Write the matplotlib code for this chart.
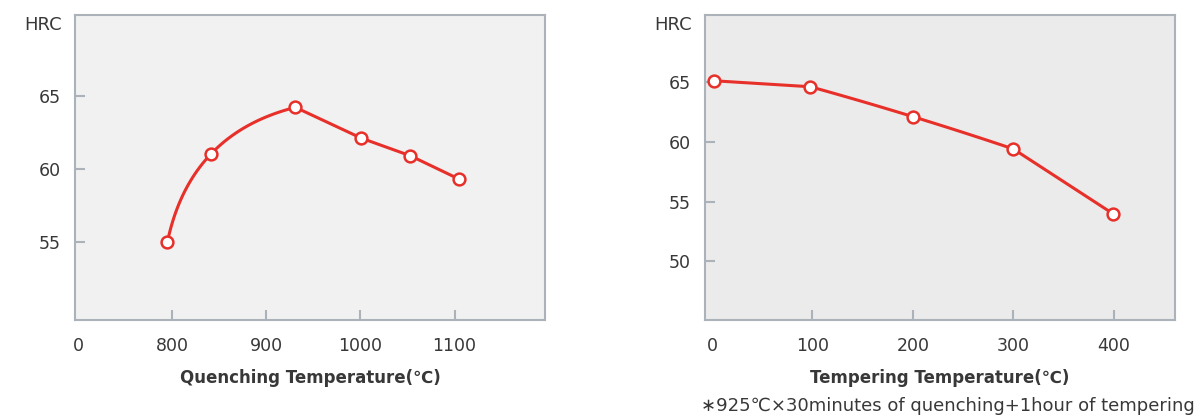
import matplotlib.pyplot as plt
import numpy as np

# quenching data
q_temp = [795, 841, 931, 1001, 1053, 1105]
q_hrc = [55.0, 61.0, 64.2, 62.1, 60.9, 59.3]
q_xticks = [700, 800, 900, 1000, 1100]
q_xlabels = ['0', '800', '900', '1000', '1100']
q_yticks = [55, 60, 65]

# tempering data
t_temp = [2, 98, 200, 300, 399]
t_hrc = [65.1, 64.6, 62.1, 59.4, 54.0]
t_xticks = [0, 100, 200, 300, 400]
t_yticks = [50, 55, 60, 65]

RED = '#e8302a'
SPINE = '#abb2b9'
TEXT = '#383838'

plt.rcParams['font.family'] = ['DejaVu Sans', 'Noto Sans CJK KR']


def curve(x, y, xlim, ylim, bend, n=50):
    # straight segments, except a smooth cubic run over the point indices in `bend`
    sx = 470 / (xlim[1] - xlim[0])
    sy = 305 / (ylim[1] - ylim[0])
    p = np.column_stack([np.asarray(x, float) * sx, np.asarray(y, float) * sy])
    a, b = bend
    m = {}
    for k in range(a + 1, b):
        m[k] = (p[k + 1] - p[k - 1]) / 2
    m[a] = 2 * (p[a + 1] - p[a]) - m[a + 1]
    m[b] = 2 * (p[b] - p[b - 1]) - m[b - 1]
    t = np.linspace(0, 1, n)[:, None]
    pts = []
    for k in range(len(p) - 1):
        if a <= k < b:
            h00 = 2 * t ** 3 - 3 * t ** 2 + 1
            h10 = t ** 3 - 2 * t ** 2 + t
            h01 = -2 * t ** 3 + 3 * t ** 2
            h11 = t ** 3 - t ** 2
            pts.append(h00 * p[k] + h10 * m[k] + h01 * p[k + 1] + h11 * m[k + 1])
        else:
            pts.append(np.vstack([p[k], p[k + 1]]))
    pts = np.vstack(pts)
    return pts[:, 0] / sx, pts[:, 1] / sy


def draw(ax, x, y, xlim, ylim, bend, xticks, xlabels, yticks, xlabel, bg):
    ax.set_facecolor(bg)
    cx, cy = curve(x, y, xlim, ylim, bend)
    ax.plot(cx, cy, color=RED, lw=2.2, zorder=2)
    ax.plot(x, y, 'o', ms=8.5, mfc='white', mec=RED, mew=1.8, zorder=3)
    ax.set_xlim(*xlim)
    ax.set_ylim(*ylim)
    ax.set_xticks(xticks)
    ax.set_xticklabels(xlabels)
    ax.set_yticks(yticks)
    ax.xaxis.get_major_ticks()[0].tick1line.set_visible(False)
    for s in ax.spines.values():
        s.set_color(SPINE)
        s.set_linewidth(1.5)
    ax.tick_params(direction='in', length=7, width=1.5, color=SPINE,
                   labelsize=12.5, labelcolor=TEXT)
    ax.tick_params(axis='x', pad=12)
    ax.tick_params(axis='y', pad=10)
    ax.set_xlabel(xlabel, fontsize=12, fontweight='bold', color=TEXT, labelpad=10)
    ax.text(-0.028, 0.967, 'HRC', transform=ax.transAxes, ha='right', va='center',
            fontsize=13, color=TEXT)


fig = plt.figure(figsize=(11.97, 4.15), dpi=100)
ax1 = fig.add_axes([0.0627, 0.2289, 0.3926, 0.735])
ax2 = fig.add_axes([0.589, 0.2289, 0.3926, 0.735])

draw(ax1, q_temp, q_hrc, (697, 1196), (49.7, 70.5), (0, 2), q_xticks, q_xlabels, q_yticks,
     'Quenching Temperature(℃)', '#f1f1f1')
draw(ax2, t_temp, t_hrc, (-7, 461), (45.1, 70.6), (1, 3), t_xticks, [str(v) for v in t_xticks],
     t_yticks, 'Tempering Temperature(℃)', '#ebebeb')

fig.text(0.9985, 0.0, '∗925℃×30minutes of quenching+1hour of tempering', ha='right',
         va='bottom', fontsize=13, color=TEXT)

fig.savefig('out.png', dpi=100)
